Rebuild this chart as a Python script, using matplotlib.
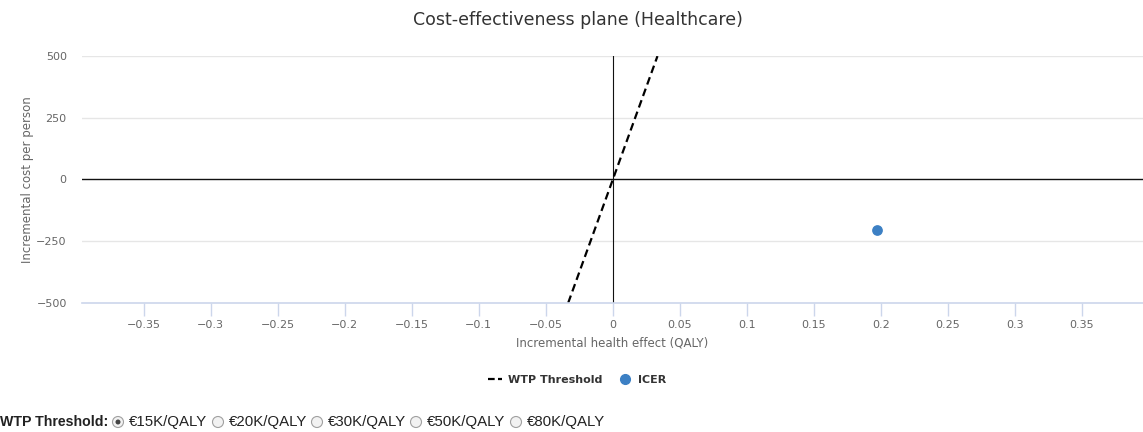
import numpy as np
import matplotlib.pyplot as plt
from matplotlib.lines import Line2D
from matplotlib.patches import Ellipse

# data
wtp_threshold = 15000          # EUR per QALY (selected option)
wtp_x = [-0.0333, 0.0333]
icer_x = [0.197]
icer_y = [-205]
x_ticks = [-0.35, -0.3, -0.25, -0.2, -0.15, -0.1, -0.05, 0, 0.05, 0.1, 0.15, 0.2, 0.25, 0.3, 0.35]
y_ticks = [-500, -250, 0, 250, 500]
wtp_options = ['€15K/QALY', '€20K/QALY', '€30K/QALY', '€50K/QALY', '€80K/QALY']

W, H = 1143, 432
fig = plt.figure(figsize=(W / 100, H / 100), dpi=100)
ax = fig.add_axes([82 / W, 1 - 303 / H, 1 - 82 / W, (303 - 56) / H])

grid_c = '#e6e6e6'
axis_c = '#ccd6eb'
text_c = '#666666'

for yv in y_ticks:
    if yv in (-500, 0):
        continue
    ax.axhline(yv, color=grid_c, lw=1, zorder=0)
ax.axhline(0, color='#111111', lw=1, zorder=1)
ax.axvline(0, color='#111111', lw=0.8, zorder=1)

wtp_y = [v * wtp_threshold for v in wtp_x]
ax.plot(wtp_x, wtp_y, color='black', lw=1.6, ls=(0, (3.5, 2)), zorder=2)
ax.scatter(icer_x, icer_y, s=45, color='#3c80c4', zorder=3)

ax.set_xlim(-0.396, 0.3955)
ax.set_ylim(-500, 500)
ax.set_xticks(x_ticks)
ax.set_xticklabels([f'{v:g}'.replace('-', '\u2212') for v in x_ticks])
ax.set_yticks(y_ticks)
ax.set_yticklabels([f'{v:g}'.replace('-', '\u2212') for v in y_ticks])

for s in ['top', 'right', 'left']:
    ax.spines[s].set_visible(False)
ax.spines['bottom'].set_color(axis_c)
ax.spines['bottom'].set_linewidth(1.2)
ax.tick_params(axis='x', colors=text_c, length=9, width=1, color=axis_c, labelsize=8, pad=3)
ax.tick_params(axis='y', colors=text_c, length=0, labelsize=8, pad=11)

ax.set_xlabel('Incremental health effect (QALY)', color=text_c, fontsize=8.5, labelpad=5)
ax.set_ylabel('Incremental cost per person', color=text_c, fontsize=8.5, va='center')
ax.yaxis.set_label_coords(-0.051, 0.5)

fig.text(578 / W, 1 - 20 / H, 'Cost-effectiveness plane (Healthcare)', ha='center', va='center',
         fontsize=12.5, color='#333333')

handles = [Line2D([0], [0], color='black', lw=1.6, ls=(0, (3, 1.5))),
           Line2D([0], [0], marker='o', color='#3c80c4', lw=0, markersize=7)]
leg = fig.legend(handles, ['WTP Threshold', 'ICER'], loc='center', bbox_to_anchor=(577 / W, 1 - 380 / H),
                 ncol=2, frameon=False, handlelength=1.3, columnspacing=1.4, handletextpad=0.5,
                 prop={'weight': 'bold', 'size': 8})
for t in leg.get_texts():
    t.set_color('#333333')

# radio button row under the chart
y_row = 1 - 422 / H
fig.text(0, y_row, 'WTP Threshold:', ha='left', va='center', fontsize=10.2, fontweight='bold',
         family='Liberation Sans', color='#222222')
radio_x = [118, 218, 317, 416, 516]
for i, (rx, lab) in enumerate(zip(radio_x, wtp_options)):
    circ = Ellipse((rx / W, y_row), 11 / W, 11 / H, transform=fig.transFigure, facecolor='#f2f2f2',
                   edgecolor='#a0a0a0', lw=0.8)
    fig.patches.append(circ)
    if i == 0:
        dot = Ellipse((rx / W, y_row), 5 / W, 5 / H, transform=fig.transFigure, facecolor='#444444',
                      edgecolor='none')
        fig.patches.append(dot)
    fig.text((rx + 10.5) / W, y_row, lab, ha='left', va='center', fontsize=10.8,
             family='Liberation Sans', color='#222222')

fig.savefig('out.png', dpi=100)
